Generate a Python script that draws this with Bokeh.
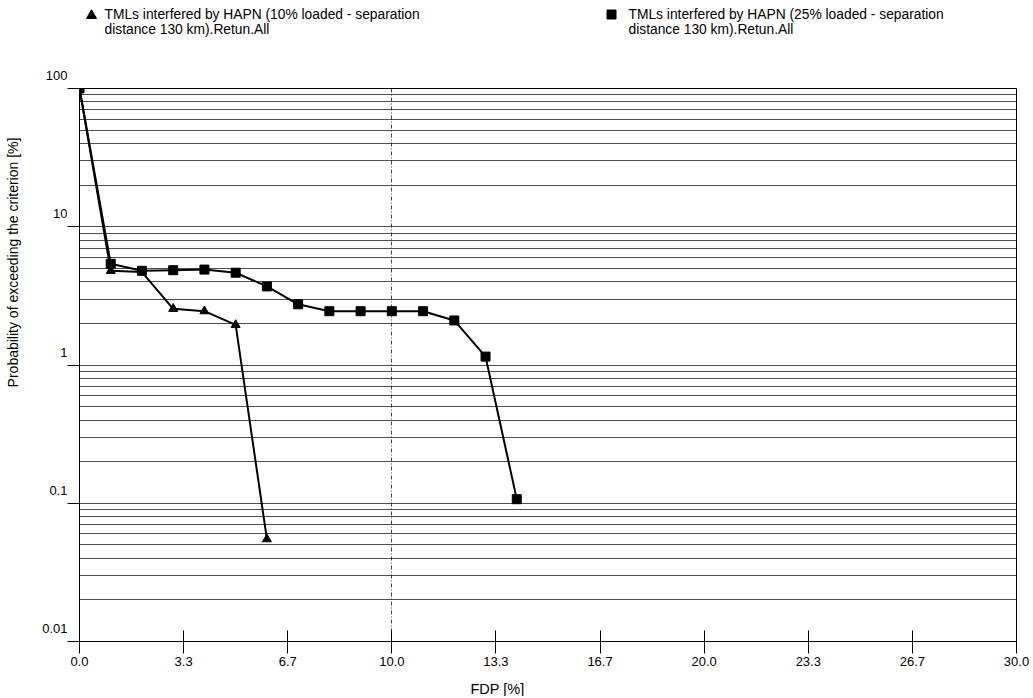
import math
from bokeh.plotting import figure
from bokeh.layouts import column, row
from bokeh.models import Range1d, FixedTicker, Label
from bokeh.embed import file_html
from bokeh.resources import INLINE
from bokeh.core.properties import value

# ---- data ----
fdp_10 = [0, 1, 2, 3, 4, 5, 6]
prob_10 = [100, 4.8, 4.7, 2.55, 2.45, 1.95, 0.055]

fdp_25 = [0, 1, 2, 3, 4, 5, 6, 7, 8, 9, 10, 11, 12, 13, 14]
prob_25 = [100, 5.4, 4.8, 4.85, 4.9, 4.65, 3.7, 2.75, 2.45, 2.45, 2.45, 2.45, 2.1, 1.15, 0.107]

legend_lines_10 = ["TMLs interfered by HAPN (10% loaded - separation", "distance 130 km).Retun.All"]
legend_lines_25 = ["TMLs interfered by HAPN (25% loaded - separation", "distance 130 km).Retun.All"]

x_title = "FDP [%]"
y_title = "Probability of exceeding the criterion [%]"

x_ticks = [0, 10 / 3, 20 / 3, 10, 40 / 3, 50 / 3, 20, 70 / 3, 80 / 3, 30]
x_tick_labels = ["0.0", "3.3", "6.7", "10.0", "13.3", "16.7", "20.0", "23.3", "26.7", "30.0"]
y_ticks = [0.01, 0.1, 1, 10, 100]
y_tick_labels = ["0.01", "0.1", "1", "10", "100"]
y_grid = [k * 10.0 ** e for e in range(-2, 2) for k in range(1, 10)] + [100]

FONT = "Liberation Sans"

# ---- layout constants (window pixels) ----
STRIP_W = 67            # left strip holding y tick labels + y title
AXIS_W = 12             # main y-axis tick length
FRAME_L = STRIP_W + AXIS_W   # 79
FRAME_W = 937
FRAME_TOP, FRAME_H = 88, 553
LEG_H = 80
MAIN_BOTTOM = 32
FOOT_H = 23
TOTAL_H = LEG_H + 8 + FRAME_H + MAIN_BOTTOM + FOOT_H
MAIN_W = 963
Y_LO, Y_HI = 0.01, 100

# ---------------- legend strip (top) ----------------
leg = figure(width=MAIN_W, height=LEG_H, x_range=Range1d(FRAME_L, FRAME_L + FRAME_W),
             y_range=Range1d(LEG_H, 0), output_backend="svg", toolbar_location=None,
             min_border=0, x_axis_location=None, y_axis_location=None)
leg.outline_line_color = None
leg.grid.visible = False
leg.scatter([91], [15], marker="triangle", size=10, fill_color="black", line_color="black")
leg.scatter([611], [14], marker="square", size=9, fill_color="black", line_color="black")
for x0, lines in [(104, legend_lines_10), (628, legend_lines_25)]:
    leg.text([x0, x0], [14, 29], text=lines, text_font=value(FONT),
             text_font_size="13.8px", text_align="left", text_baseline="middle",
             text_color="black")

# ---------------- main plot ----------------
p = figure(width=MAIN_W, height=8 + FRAME_H + MAIN_BOTTOM,
           x_range=Range1d(0, 30), y_range=Range1d(Y_LO, Y_HI),
           y_axis_type="log", output_backend="svg", toolbar_location=None,
           min_border_left=AXIS_W, min_border_right=MAIN_W - AXIS_W - FRAME_W,
           min_border_top=8, min_border_bottom=MAIN_BOTTOM)

p.outline_line_color = "black"
p.outline_line_width = 1

p.ygrid.ticker = FixedTicker(ticks=y_grid)
p.ygrid.grid_line_color = "#222222"
p.ygrid.grid_line_alpha = 0.8
p.ygrid.grid_line_width = 1
p.xgrid.ticker = FixedTicker(ticks=[10])
p.xgrid.grid_line_color = "#444444"
p.xgrid.grid_line_dash = "4 2 1 2"
p.xgrid.grid_line_width = 1

xa = p.xaxis[0]
xa.ticker = FixedTicker(ticks=x_ticks, minor_ticks=[])
xa.major_label_overrides = {t: s for t, s in zip(x_ticks, x_tick_labels)}
xa.major_tick_in = 11
xa.major_tick_out = 12
xa.minor_tick_in = 0
xa.minor_tick_out = 0
xa.major_label_standoff = 3
xa.major_label_text_font = FONT
xa.major_label_text_font_size = "13px"
xa.major_label_text_color = "black"
xa.axis_line_color = "black"
xa.major_tick_line_color = "black"

ya = p.yaxis[0]
ya.ticker = FixedTicker(ticks=y_ticks, minor_ticks=[])
ya.major_label_overrides = {t: "" for t in y_ticks}
ya.major_label_text_font_size = "0px"
ya.major_tick_in = 0
ya.major_tick_out = AXIS_W
ya.minor_tick_in = 0
ya.minor_tick_out = 0
ya.major_label_standoff = 0
ya.axis_line_color = "black"
ya.major_tick_line_color = "black"

p.line(fdp_10, prob_10, line_color="black", line_width=2)
p.scatter(fdp_10, prob_10, marker="triangle", size=9, fill_color="black", line_color="black")
p.line(fdp_25, prob_25, line_color="black", line_width=2)
p.scatter(fdp_25, prob_25, marker="square", size=9, fill_color="black", line_color="black")

# ---------------- x title strip (bottom) ----------------
foot = figure(width=MAIN_W, height=FOOT_H, x_range=Range1d(FRAME_L, FRAME_L + FRAME_W),
              y_range=Range1d(FOOT_H, 0), output_backend="svg", toolbar_location=None,
              min_border=0, x_axis_location=None, y_axis_location=None)
foot.outline_line_color = None
foot.grid.visible = False
foot.text([497], [15], text=[x_title], text_font=value(FONT), text_font_size="14.5px",
          text_align="center", text_baseline="middle", text_color="black")

# ---------------- left strip: y tick labels + y title ----------------
# log range of the strip chosen so that Y_HI / Y_LO fall on the main frame's top / bottom
dec_px = FRAME_H / (math.log10(Y_HI) - math.log10(Y_LO))
strip_lo = 10 ** (math.log10(Y_LO) - (TOTAL_H - FRAME_TOP - FRAME_H) / dec_px)
strip_hi = 10 ** (math.log10(Y_HI) + FRAME_TOP / dec_px)
strip = figure(width=STRIP_W, height=TOTAL_H, x_range=Range1d(0, STRIP_W),
               y_range=Range1d(strip_lo, strip_hi), y_axis_type="log",
               output_backend="svg", toolbar_location=None, min_border=0,
               x_axis_location=None, y_axis_location=None)
strip.outline_line_color = None
strip.grid.visible = False
strip.text([STRIP_W] * len(y_ticks), y_ticks, text=y_tick_labels, y_offset=-13,
           text_font=value(FONT), text_font_size="13px", text_align="right",
           text_baseline="middle", text_color="black")
strip.add_layout(Label(x=12, y=TOTAL_H - 262, x_units="screen", y_units="screen",
                       text=y_title, angle=math.pi / 2, text_font=FONT,
                       text_font_size="14px", text_align="center",
                       text_baseline="middle", text_color="black"))

layout = row(strip, column(leg, p, foot, spacing=0), spacing=0)
open("out.html", "w").write(file_html(layout, INLINE))
